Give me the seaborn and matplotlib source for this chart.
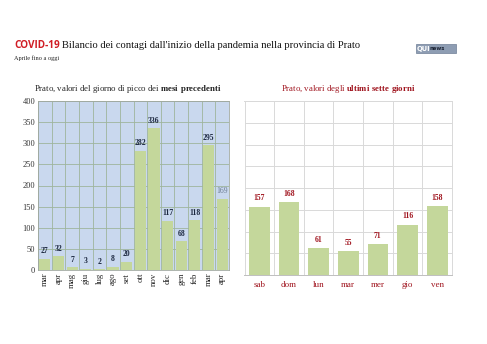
import matplotlib
matplotlib.use("Agg")
import matplotlib.pyplot as plt
import seaborn as sns
import pandas as pd
import numpy as np
from matplotlib.patches import Rectangle

months = ["mar", "apr", "mag", "giu", "lug", "ago", "set", "ott", "nov", "dic", "gen", "feb", "mar", "apr"]
month_values = [27, 32, 7, 3, 2, 8, 20, 282, 336, 117, 68, 118, 295, 169]
days = ["sab", "dom", "lun", "mar", "mer", "gio", "ven"]
day_values = [157, 168, 61, 55, 71, 116, 158]
yticks = [0, 50, 100, 150, 200, 250, 300, 350, 400]

sns.set_theme(style="white")
plt.rcParams['font.family'] = ['Liberation Serif', 'DejaVu Serif']
plt.rcParams['mathtext.fontset'] = 'custom'
plt.rcParams['mathtext.rm'] = 'Liberation Serif'
plt.rcParams['mathtext.bf'] = 'Liberation Serif:bold'

W, H = 487, 344
fig = plt.figure(figsize=(W / 100, H / 100), dpi=100)
fig.patch.set_facecolor("white")

def ax_rect(x0, y0, x1, y1):
    return [x0 / W, 1 - y1 / H, (x1 - x0) / W, (y1 - y0) / H]

bar_col = "#c4d79b"
darkred = "#a0141e"

# ---- left chart ----
axL = fig.add_axes(ax_rect(38, 101, 229, 270))
dfL = pd.DataFrame({"pos": [f"{m}{i}" for i, m in enumerate(months)], "val": month_values})
sns.barplot(data=dfL, x="pos", y="val", ax=axL, color=bar_col, width=0.82, saturation=1, edgecolor="none")
axL.set_facecolor("#c9d8ee")
axL.set_ylim(0, 400)
axL.set_xlim(-0.5, len(months) - 0.5)
axL.set_yticks(yticks)
axL.set_yticklabels([str(v) for v in yticks], fontsize=6, color="#333333")
axL.set_xticks(range(len(months)))
axL.set_xticklabels(months, rotation=90, fontsize=6.3, color="#222222")
axL.set_xticks(np.arange(-0.5, len(months), 1), minor=True)
axL.grid(True, which="minor", axis="x", color="#9fb59c", lw=0.6)
axL.grid(True, which="major", axis="y", color="#9fb59c", lw=0.6)
axL.set_axisbelow(True)
axL.tick_params(axis="both", which="both", length=0, pad=2)
axL.set_xlabel("")
axL.set_ylabel("")
for s in axL.spines.values():
    s.set_color("#a0a8a0")
    s.set_linewidth(0.6)
for i, v in enumerate(month_values):
    last = i == len(month_values) - 1
    axL.text(i, v + 8, str(v), ha="center", va="bottom", fontsize=5.5,
             fontweight="normal" if last else "bold",
             color="#6a7a90" if last else "#1c2840")

fig.text(128 / W, 1 - 89 / H, r"Prato, valori del giorno di picco dei $\bf{mesi\ precedenti}$",
         ha="center", va="center", fontsize=6.3, color="#222222")

# ---- right chart ----
axR = fig.add_axes(ax_rect(244.5, 101, 452, 275))
dfR = pd.DataFrame({"day": days, "val": day_values})
sns.barplot(data=dfR, x="day", y="val", ax=axR, color=bar_col, width=0.7, saturation=1, edgecolor="none")
axR.set_ylim(0, 400)
axR.set_xlim(-0.5, len(days) - 0.5)
axR.set_yticks(yticks)
axR.set_yticklabels([])
axR.set_xticks(range(len(days)))
axR.set_xticklabels(days, fontsize=6.5, color=darkred)
axR.set_xticks(np.arange(-0.5, len(days), 1), minor=True)
axR.grid(True, which="minor", axis="x", color="#d9d9d9", lw=0.7)
axR.grid(True, which="major", axis="y", color="#d9d9d9", lw=0.7)
axR.set_axisbelow(True)
axR.tick_params(axis="both", which="both", length=0, pad=4)
axR.set_xlabel("")
axR.set_ylabel("")
for k, s in axR.spines.items():
    s.set_color("#d9d9d9")
    s.set_linewidth(0.7)
axR.spines["bottom"].set_color("#bfbfbf")
for i, v in enumerate(day_values):
    axR.text(i, v + 10, str(v), ha="center", va="bottom", fontsize=5.5,
             fontweight="bold", color=darkred)

fig.text(348 / W, 1 - 89 / H, r"Prato, valori degli $\bf{ultimi\ sette\ giorni}$",
         ha="center", va="center", fontsize=6.3, color=darkred)

# ---- main title ----
t1 = fig.text(14 / W, 1 - 46 / H, "COVID-19", ha="left", va="center", fontsize=7.2,
              fontweight="bold", color="#d01c24", family=["Open Sans", "DejaVu Sans"])
fig.canvas.draw()
bb = t1.get_window_extent(fig.canvas.get_renderer())
fig.text((bb.x1 + 2) / W, 1 - 46 / H,
         "Bilancio dei contagi dall'inizio della pandemia nella provincia di Prato",
         ha="left", va="center", fontsize=7.6, color="#111111")
fig.text(14 / W, 1 - 58 / H, "Aprile fino a oggi", ha="left", va="center", fontsize=4.5, color="#222222")

# ---- logo ----
fig.patches.append(Rectangle((416 / W, 1 - 53 / H), 40 / W, 9 / H, transform=fig.transFigure,
                             facecolor="#8e9db3", edgecolor="#6f7f96", lw=0.5))
fig.text(417 / W, 1 - 48.5 / H, "QUI", ha="left", va="center", fontsize=4.8, fontweight="bold",
         color="white", family=["DejaVu Sans"])
fig.text(430 / W, 1 - 48.8 / H, "news", ha="left", va="center", fontsize=3.8, fontweight="bold",
         color="#1a2233", family=["DejaVu Sans"])

fig.savefig("out.png", dpi=100, facecolor="white")
